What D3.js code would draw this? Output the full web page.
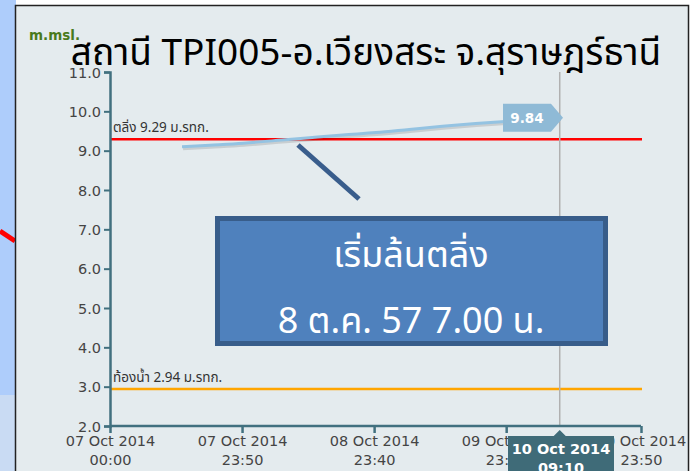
<!DOCTYPE html>
<html><head><meta charset="utf-8">
<script src="https://cdn.jsdelivr.net/npm/d3@7"></script>
<style>
html,body{margin:0;padding:0;background:#fff;}
svg{display:block;}
</style></head>
<body>
<script>
// ---- data ----
const titleText = "สถานี TPI005-อ.เวียงสระ จ.สุราษฎร์ธานี";
const unitLabel = "m.msl.";
const yTicks = [2,3,4,5,6,7,8,9,10,11];
const xTickTimes = ["2014-10-07T00:00","2014-10-07T23:50","2014-10-08T23:40","2014-10-09T23:30","2014-10-10T23:50"];
const levelTimes = ["2014-10-07T13:00","2014-10-07T18:00","2014-10-08T00:00","2014-10-08T07:00","2014-10-08T12:00","2014-10-08T18:00","2014-10-09T00:00","2014-10-09T06:00","2014-10-09T12:00","2014-10-09T18:00","2014-10-10T00:00","2014-10-10T06:00","2014-10-10T09:10"];
const levelValues = [9.10,9.14,9.19,9.27,9.33,9.40,9.46,9.54,9.62,9.69,9.75,9.81,9.84];
const bankLevel = 9.29, bankLabel = "ตลิ่ง 9.29 ม.รทก.";
const bedLevel = 2.94, bedLabel = "ท้องน้ำ 2.94 ม.รทก.";
const hoverTime = "2014-10-10T09:10", hoverValue = 9.84;
const noteLines = ["เริ่มล้นตลิ่ง","8 ต.ค. 57 7.00 น."];

// ---- setup ----
const W=695,H=471;
const parse = d3.utcParse("%Y-%m-%dT%H:%M");
const fmtDay = d3.utcFormat("%d %b %Y"), fmtTime = d3.utcFormat("%H:%M");
const thai = "'Noto Sans Thai','Noto Sans','Leelawadee UI',Tahoma,sans-serif";
const sans = "Verdana,'DejaVu Sans',sans-serif";
const svg = d3.select("body").append("svg").attr("width",W).attr("height",H);

// left strip (background image remnant)
svg.append("rect").attr("x",0).attr("y",0).attr("width",16).attr("height",H).attr("fill","#aecdfb");
svg.append("line").attr("x1",0).attr("y1",231).attr("x2",15).attr("y2",241).attr("stroke","#f00").attr("stroke-width",5);
svg.append("rect").attr("x",0).attr("y",395).attr("width",15).attr("height",76).attr("fill","#c9dbf3");
// panel
svg.append("rect").attr("x",15.5).attr("y",5.5).attr("width",673).attr("height",470).attr("fill","#e4ebee").attr("stroke","#222").attr("stroke-width",1.5);

const x = d3.scaleUtc().domain([parse(xTickTimes[0]), parse(xTickTimes[xTickTimes.length-1])]).range([110,641]);
const y = d3.scaleLinear().domain([2,11]).range([426,72]);

// threshold lines
svg.append("line").attr("x1",110).attr("x2",642).attr("y1",y(bankLevel)).attr("y2",y(bankLevel)).attr("stroke","#ff0000").attr("stroke-width",2.5);
svg.append("text").attr("x",113).attr("y",y(bankLevel)-7).attr("font-family",thai).attr("font-size",13.5).attr("fill","#333").text(bankLabel);
svg.append("line").attr("x1",110).attr("x2",642).attr("y1",y(bedLevel)).attr("y2",y(bedLevel)).attr("stroke","#ffa500").attr("stroke-width",2.5);
svg.append("text").attr("x",113).attr("y",y(bedLevel)-7).attr("font-family",thai).attr("font-size",13.5).attr("fill","#333").text(bedLabel);

// water level line
const data = levelTimes.map((t,i)=>({t:parse(t),v:levelValues[i]}));
const line = d3.line().x(d=>x(d.t)).y(d=>y(d.v)).curve(d3.curveMonotoneX);
svg.append("path").datum(data).attr("d",line).attr("fill","none").attr("stroke","#000").attr("stroke-opacity",0.12).attr("stroke-width",4).attr("transform","translate(1,1.5)");
svg.append("path").datum(data).attr("d",line).attr("fill","none").attr("stroke","#94c3e2").attr("stroke-width",3);

// crosshair
const hx = x(parse(hoverTime));
svg.append("line").attr("x1",hx).attr("x2",hx).attr("y1",72).attr("y2",426).attr("stroke","#b0b0b0").attr("stroke-width",1.5);

// y axis
const yAxis = svg.append("g").attr("transform","translate(110,0)").call(d3.axisLeft(y).tickValues(yTicks).tickFormat(d3.format(".1f")).tickSize(6).tickPadding(3));
yAxis.select(".domain").attr("stroke","#41707f").attr("stroke-width",2.5);
yAxis.selectAll(".tick line").attr("stroke","#41707f").attr("stroke-width",2);
yAxis.selectAll(".tick text").attr("font-family",sans).attr("font-size",14.5).attr("fill","#444").attr("dy","0.36em");

// x axis
const xAxis = svg.append("g").attr("transform","translate(0,426)").call(d3.axisBottom(x).tickValues(xTickTimes.map(parse)).tickSize(7).tickFormat(""));
xAxis.select(".domain").attr("stroke","#41707f").attr("stroke-width",2.5).attr("d","M110,0H641");
xAxis.selectAll(".tick line").attr("stroke","#41707f").attr("stroke-width",2.5);
xAxis.selectAll(".tick").each(function(d){
  const g=d3.select(this);
  const t=g.append("text").attr("text-anchor","middle").attr("font-family",sans).attr("font-size",14.5).attr("fill","#444");
  t.append("tspan").attr("x",0).attr("y",20).text(fmtDay(d));
  t.append("tspan").attr("x",0).attr("y",39).text(fmtTime(d));
});

// value tooltip
const py = y(hoverValue);
const tip = svg.append("g");
tip.append("path").attr("d",`M503,${py-14}H551L563,${py}L551,${py+14}H503Z`).attr("fill","#8fbad6");
tip.append("text").attr("x",527).attr("y",py+5).attr("text-anchor","middle").attr("font-family",sans).attr("font-weight","bold").attr("font-size",13.5).attr("fill","#fff").text(d3.format(".2f")(hoverValue));

// date tooltip at bottom
const bt = svg.append("g");
bt.append("path").attr("d",`M508,436H${hx-6}L${hx},430L${hx+6},436H614V475H508Z`).attr("fill","#3f6b78");
const btt = bt.append("text").attr("text-anchor","middle").attr("font-family",sans).attr("font-weight","bold").attr("font-size",14.5).attr("fill","#fff");
btt.append("tspan").attr("x",561).attr("y",454).text(fmtDay(parse(hoverTime)));
btt.append("tspan").attr("x",561).attr("y",473).text(fmtTime(parse(hoverTime)));

// unit label
svg.append("text").attr("x",29).attr("y",40).attr("font-family",sans).attr("font-weight","bold").attr("font-size",13.5).attr("fill","#4a7a1c").text(unitLabel);

// title
svg.append("text").attr("x",366).attr("y",65).attr("text-anchor","middle").attr("font-family",thai).attr("font-size",37).attr("fill","#000").text(titleText);

// annotation
svg.append("line").attr("x1",298).attr("y1",145).attr("x2",359).attr("y2",199).attr("stroke","#395d8c").attr("stroke-width",5);
svg.append("rect").attr("x",217.5).attr("y",218.5).attr("width",388).attr("height",125).attr("fill","#4f81bd").attr("stroke","#385d8a").attr("stroke-width",5);
noteLines.forEach((s,i)=>{
  svg.append("text").attr("x",411).attr("y",[267,333][i]).attr("text-anchor","middle").attr("font-family",thai).attr("font-size",36).attr("fill","#fff").text(s);
});
</script>
</body></html>
